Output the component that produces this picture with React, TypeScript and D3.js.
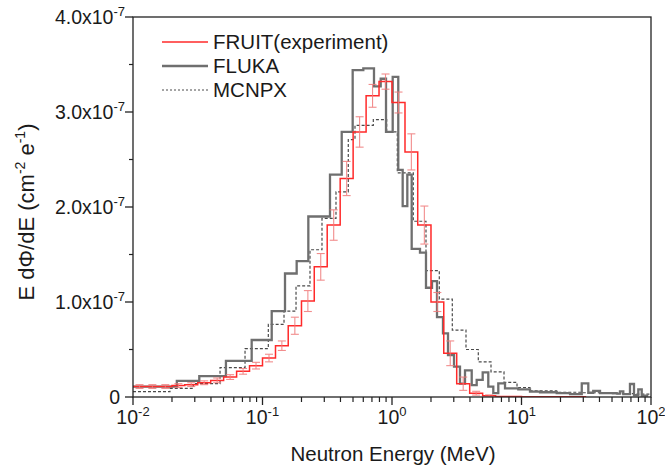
import React from 'react';
import * as d3 from 'd3';

// ---------- data (values in units of 1e-7 cm^-2 e^-1, energies in MeV) ----------
const fruitEdges = [0.01, 0.0126, 0.0158, 0.02, 0.0251, 0.0316, 0.0398, 0.0501, 0.0631, 0.0794, 0.1, 0.126, 0.158, 0.2, 0.251, 0.316, 0.398, 0.501, 0.631, 0.794, 1, 1.26, 1.58, 2, 2.51, 3.16, 3.98, 5.01, 6.31, 7.94, 10, 12.6, 15.8, 20, 25.1, 31.6];
const fruitValues = [0.11, 0.11, 0.11, 0.12, 0.13, 0.15, 0.175, 0.21, 0.27, 0.33, 0.41, 0.54, 0.75, 1.01, 1.37, 1.81, 2.30, 2.79, 3.17, 3.32, 3.10, 2.58, 1.81, 1.00, 0.46, 0.14, 0.04, 0.012, 0.005, 0.004, 0.003, 0.003, 0.002, 0.002, 0.002];
const fruitErrors = [0.02, 0.02, 0.02, 0.02, 0.02, 0.02, 0.025, 0.025, 0.03, 0.035, 0.04, 0.05, 0.09, 0.11, 0.14, 0.16, 0.18, 0.16, 0.12, 0.08, 0.11, 0.19, 0.2, 0.1, 0.13, 0.07, 0.02, 0.01, 0, 0, 0, 0, 0, 0, 0];

const flukaEdges = [0.01, 0.0218, 0.0325, 0.0522, 0.0825, 0.1178, 0.1492, 0.1836, 0.2259, 0.332, 0.409, 0.497, 0.6005, 0.726, 0.818, 0.899, 1.0125, 1.118, 1.209, 1.313, 1.419, 1.645, 1.83, 2.037, 2.226, 2.476, 2.707, 3.012, 3.35, 3.662, 4.126, 4.508, 5.016, 5.54, 6.056, 6.619, 7.46, 9.447, 11.63, 13.9, 18.7, 23.7, 29.2, 32.8, 35.8, 40.4, 54.3, 57.6, 61.1, 68.8, 73.9, 79.8, 84.8, 95.3];
const flukaValues = [0.11, 0.17, 0.22, 0.38, 0.60, 0.905, 1.30, 1.43, 1.90, 2.34, 2.79, 3.44, 3.46, 3.27, 3.35, 2.79, 3.37, 2.39, 2.01, 2.34, 1.56, 1.52, 1.15, 1.22, 0.84, 0.67, 0.44, 0.32, 0.14, 0.28, 0.126, 0.18, 0.26, 0.11, 0.04, 0.144, 0.09, 0.08, 0.056, 0.05, 0.04, 0.03, 0.144, 0.045, 0.065, 0.04, 0.035, 0.06, 0.03, 0.137, 0.02, 0.08, 0.015];

const mcnpxEdges = [0.01, 0.0193, 0.0292, 0.047, 0.0733, 0.1109, 0.1466, 0.1815, 0.2327, 0.288, 0.3694, 0.4597, 0.5179, 0.7173, 0.91, 1.099, 1.46, 1.83, 2.319, 2.922, 3.727, 4.639, 5.814, 7.327, 9.233, 11.63, 18.7, 29.8, 48.3, 76.6, 100];
const mcnpxValues = [0.056, 0.09, 0.14, 0.31, 0.51, 0.765, 0.905, 1.17, 1.55, 1.88, 2.16, 2.71, 2.86, 2.92, 2.79, 2.36, 1.85, 1.33, 1.03, 0.705, 0.50, 0.37, 0.265, 0.155, 0.10, 0.065, 0.05, 0.045, 0.035, 0.03];

const xMajorTicks = [0.01, 0.1, 1, 10, 100];
const xTickExponents = ['-2', '-1', '0', '1', '2'];
const yMajorTicks = [0, 1, 2, 3, 4];
const yTickMantissas = ['0', '1.0', '2.0', '3.0', '4.0'];
const yMinorTicks = [0.5, 1.5, 2.5, 3.5];

const legendLabels = ['FRUIT(experiment)', 'FLUKA', 'MCNPX'];

// ---------- layout ----------
const W = 665;
const H = 468;
const L = 133, R = 651, T = 17, B = 397;
const FONT = "'Liberation Sans', Arial, Helvetica, sans-serif";
const TICK_FS = 19.5;
const SUP_FS = 13;
const TITLE_FS = 20.5;
const YTITLE_FS = 22;
const YSUP_FS = 14;

const x = d3.scaleLog().domain([0.01, 100]).range([L, R]);
const y = d3.scaleLinear().domain([0, 4]).range([B, T]);

function stepPath(edges: number[], values: number[]) {
  const pts: [number, number][] = values.map((v, i) => [edges[i], v]);
  pts.push([edges[values.length], values[values.length - 1]]);
  return d3.line<[number, number]>()
    .x(d => x(d[0]))
    .y(d => y(d[1]))
    .curve(d3.curveStepAfter)(pts) || '';
}

export default function App() {
  const minorX = x.ticks().filter(t => !xMajorTicks.some(m => Math.abs(m - t) / m < 1e-6));
  const red = '#ff2a2a';
  const errColor = '#f07a7a';
  const gray = '#6f6f6f';
  const dashGray = '#4a4a4a';
  const ink = '#1a1a1a';

  return (
    <div style={{ position: 'absolute', left: 0, top: 0 }}>
      <svg width={W} height={H} style={{ display: 'block', background: '#fff' }} fontFamily={FONT}>
        <defs>
          <clipPath id="plotclip">
            <rect x={L} y={T} width={R - L} height={B - T} />
          </clipPath>
        </defs>

        <g clipPath="url(#plotclip)">
          <path d={stepPath(mcnpxEdges, mcnpxValues)} fill="none" stroke={dashGray} strokeWidth={1.2} strokeDasharray="3,2" />
          <path d={stepPath(flukaEdges, flukaValues)} fill="none" stroke={gray} strokeWidth={2.3} />
          <path d={stepPath(fruitEdges, fruitValues)} fill="none" stroke={red} strokeWidth={1.5} />
          {fruitValues.map((v, i) => {
            const e = fruitErrors[i];
            if (!e) return null;
            const cx = x(Math.sqrt(fruitEdges[i] * fruitEdges[i + 1]));
            const y1 = y(v + e), y2 = y(v - e);
            return (
              <g key={i} stroke={errColor} strokeWidth={1.1} opacity={0.85}>
                <line x1={cx} x2={cx} y1={y1} y2={y2} />
                <line x1={cx - 4} x2={cx + 4} y1={y1} y2={y1} />
                <line x1={cx - 4} x2={cx + 4} y1={y2} y2={y2} />
              </g>
            );
          })}
        </g>

        {/* frame */}
        <rect x={L} y={T} width={R - L} height={B - T} fill="none" stroke="#222" strokeWidth={1.3} />

        {/* x ticks */}
        {xMajorTicks.map((t, i) => (
          <g key={'xm' + i}>
            <line x1={x(t)} x2={x(t)} y1={B} y2={B + 8} stroke="#222" strokeWidth={1.3} />
            <text x={x(t)} y={424} textAnchor="middle" fontSize={TICK_FS} fill={ink}>
              10<tspan fontSize={SUP_FS} dy={-8}>{xTickExponents[i]}</tspan>
            </text>
          </g>
        ))}
        {minorX.map((t, i) => (
          <line key={'xn' + i} x1={x(t)} x2={x(t)} y1={B} y2={B + 5} stroke="#222" strokeWidth={1.2} />
        ))}

        {/* y ticks */}
        {yMajorTicks.map((t, i) => (
          <g key={'ym' + i}>
            <line x1={L - 8} x2={L} y1={y(t)} y2={y(t)} stroke="#222" strokeWidth={1.3} />
            <text x={i === 0 ? 120 : 125} y={y(t) + 7} textAnchor="end" fontSize={TICK_FS} fill={ink}>
              {t === 0 ? '0' : <>{yTickMantissas[i]}x10<tspan fontSize={SUP_FS} dy={-8}>-7</tspan></>}
            </text>
          </g>
        ))}
        {yMinorTicks.map((t, i) => (
          <line key={'yn' + i} x1={L - 4} x2={L} y1={y(t)} y2={y(t)} stroke="#222" strokeWidth={1.2} />
        ))}

        {/* axis titles */}
        <text x={393} y={461} textAnchor="middle" fontSize={TITLE_FS} fill={ink}>Neutron Energy (MeV)</text>
        <text transform={`translate(34,212) rotate(-90)`} textAnchor="middle" fontSize={YTITLE_FS} fill={ink}>
          E dΦ/dE (cm<tspan fontSize={YSUP_FS} dy={-9}>-2</tspan><tspan dy={9}> e</tspan><tspan fontSize={YSUP_FS} dy={-9}>-1</tspan><tspan dy={9}>)</tspan>
        </text>

        {/* legend */}
        <g>
          <line x1={162} x2={208} y1={42} y2={42} stroke={red} strokeWidth={1.5} />
          <text x={213} y={49} fontSize={TITLE_FS} fill={ink}>{legendLabels[0]}</text>
          <line x1={162} x2={208} y1={66} y2={66} stroke={gray} strokeWidth={2.3} />
          <text x={213} y={73} fontSize={TITLE_FS} fill={ink}>{legendLabels[1]}</text>
          <line x1={162} x2={208} y1={90} y2={90} stroke={dashGray} strokeWidth={1} strokeDasharray="2,2" />
          <text x={213} y={97} fontSize={TITLE_FS} fill={ink}>{legendLabels[2]}</text>
        </g>
      </svg>
    </div>
  );
}
